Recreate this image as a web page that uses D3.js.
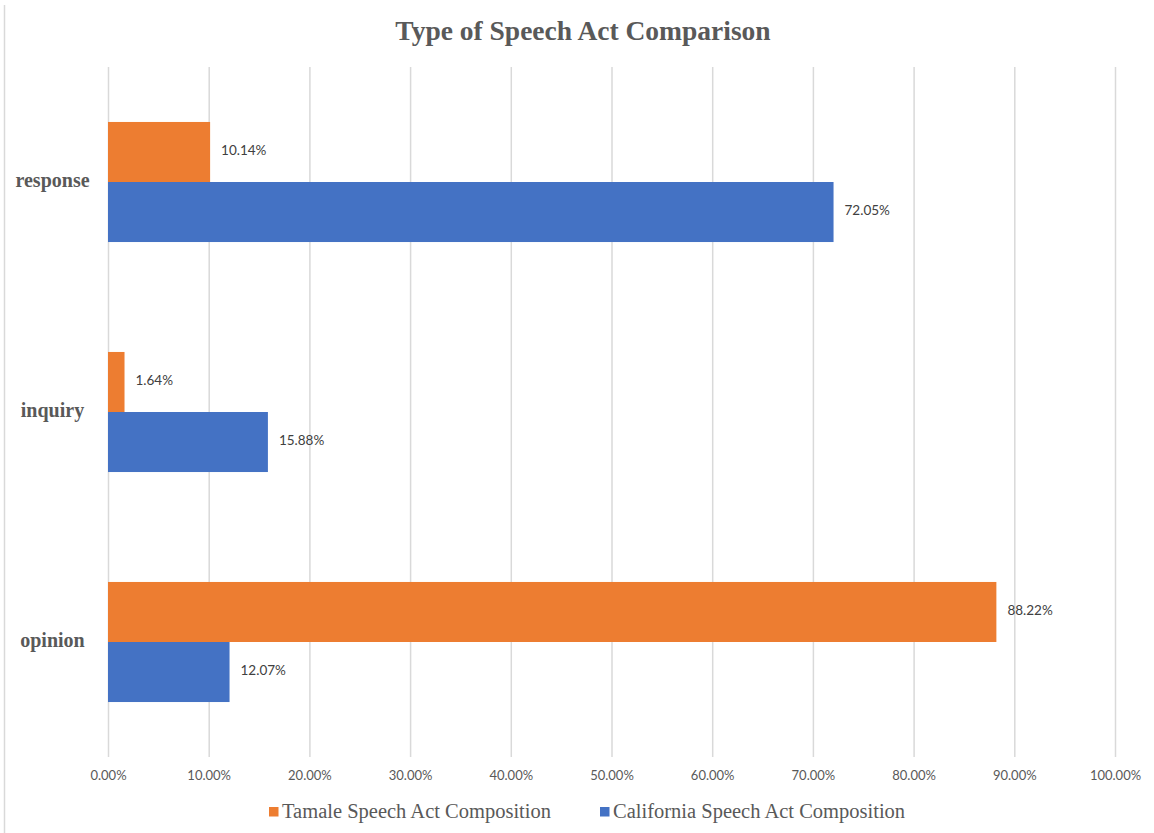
<!DOCTYPE html>
<html>
<head>
<meta charset="utf-8">
<script src="https://cdn.jsdelivr.net/npm/d3@7"></script>
<style>
  html, body { margin: 0; padding: 0; background: #fff; }
  svg { display: block; }
</style>
</head>
<body>
<svg id="chart" width="1154" height="833"></svg>
<script>
const categories = ["response", "inquiry", "opinion"];
const seriesNames = ["Tamale Speech Act Composition", "California Speech Act Composition"];
const tamaleValues = [10.14, 1.64, 88.22];
const californiaValues = [72.05, 15.88, 12.07];
const tickValues = [0, 10, 20, 30, 40, 50, 60, 70, 80, 90, 100];
const colors = ["#ED7D31", "#4472C4"];

const svg = d3.select("#chart");
const W = 1154, H = 833;
const plot = { left: 108, right: 1115, top: 67, bottom: 757 };

// frame line on left
svg.append("line").attr("x1", 4.5).attr("x2", 4.5).attr("y1", 5).attr("y2", H)
  .attr("stroke", "#d9d9d9").attr("stroke-width", 1.5);

const x = d3.scaleLinear().domain([0, 100]).range([plot.left, plot.right]);
const y = d3.scaleBand().domain(categories).range([plot.top, plot.bottom])
  .paddingInner(0.478).paddingOuter(0.239);
const ySub = d3.scaleBand().domain(seriesNames).range([0, y.bandwidth()]);

// title
svg.append("text").attr("x", 583).attr("y", 40).attr("text-anchor", "middle")
  .attr("font-family", "Liberation Serif, Times New Roman, serif").attr("font-weight", "bold")
  .attr("font-size", 27.5).attr("fill", "#595959").text("Type of Speech Act Comparison");

// grid lines
const xAxis = d3.axisBottom(x).tickValues(tickValues).tickSize(-(plot.bottom - plot.top))
  .tickFormat(d => d.toFixed(2) + "%");
const gx = svg.append("g").attr("transform", `translate(0,${plot.bottom})`).call(xAxis);
gx.select(".domain").remove();
gx.selectAll(".tick line").attr("stroke", "#d9d9d9").attr("stroke-width", 1.5);
gx.selectAll(".tick text").attr("y", 20).attr("dy", "0")
  .attr("font-family", "Lato, Liberation Sans, sans-serif").attr("font-size", 13)
  .attr("fill", "#595959").attr("dominant-baseline", "middle");

// y labels
categories.forEach(c => {
  svg.append("text").attr("x", 52.5).attr("y", y(c) + y.bandwidth() / 2)
    .attr("text-anchor", "middle").attr("dominant-baseline", "middle")
    .attr("font-family", "Liberation Serif, Times New Roman, serif").attr("font-weight", "bold")
    .attr("font-size", 20).attr("fill", "#595959").text(c);
});

// bars
const data = [];
categories.forEach((c, i) => {
  data.push({ cat: c, s: seriesNames[0], v: tamaleValues[i], color: colors[0] });
  data.push({ cat: c, s: seriesNames[1], v: californiaValues[i], color: colors[1] });
});

svg.append("g").selectAll("rect").data(data).join("rect")
  .attr("x", x(0))
  .attr("y", d => y(d.cat) + ySub(d.s))
  .attr("width", d => x(d.v) - x(0))
  .attr("height", ySub.bandwidth())
  .attr("fill", d => d.color);

svg.append("g").selectAll("text").data(data).join("text")
  .attr("x", d => x(d.v) + 11)
  .attr("y", d => y(d.cat) + ySub(d.s) + ySub.bandwidth() / 2)
  .attr("dominant-baseline", "middle")
  .attr("font-family", "Lato, Liberation Sans, sans-serif").attr("font-size", 13.5)
  .attr("fill", "#404040")
  .text(d => d.v.toFixed(2) + "%");

// legend
const legendItems = [
  { name: seriesNames[0], color: colors[0], x: 269 },
  { name: seriesNames[1], color: colors[1], x: 600 }
];
legendItems.forEach(it => {
  svg.append("rect").attr("x", it.x).attr("y", 807).attr("width", 9.5).attr("height", 9.5).attr("fill", it.color);
  svg.append("text").attr("x", it.x + 13).attr("y", 813).attr("dominant-baseline", "middle")
    .attr("font-family", "Liberation Serif, Times New Roman, serif").attr("font-size", 20.5)
    .attr("fill", "#595959").text(it.name);
});
</script>
</body>
</html>
